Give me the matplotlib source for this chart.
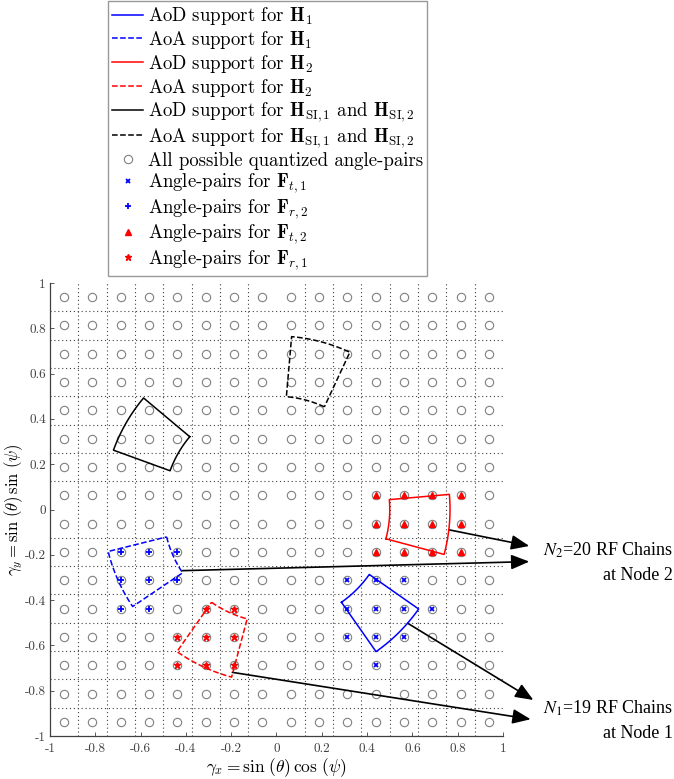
import numpy as np
import matplotlib
matplotlib.use('Agg')
import matplotlib.pyplot as plt

plt.rcParams['mathtext.fontset'] = 'cm'
plt.rcParams['font.family'] = ['cmr10', 'DejaVu Serif']
plt.rcParams['axes.unicode_minus'] = False

# quantized angle-pair grid (centres of the 16x16 cells)
grid_centers = [-0.9375, -0.8125, -0.6875, -0.5625, -0.4375, -0.3125, -0.1875, -0.0625,
                0.0625, 0.1875, 0.3125, 0.4375, 0.5625, 0.6875, 0.8125, 0.9375]
grid_lines = [-1, -0.875, -0.75, -0.625, -0.5, -0.375, -0.25, -0.125, 0,
              0.125, 0.25, 0.375, 0.5, 0.625, 0.75, 0.875, 1]
major_ticks = [-1, -0.8, -0.6, -0.4, -0.2, 0, 0.2, 0.4, 0.6, 0.8, 1]
tick_labels = ['-1', '-0.8', '-0.6', '-0.4', '-0.2', '0', '0.2', '0.4', '0.6', '0.8', '1']

# selected angle-pairs
ft1_x = [0.3125, 0.4375, 0.5625, 0.3125, 0.4375, 0.5625, 0.6875, 0.3125, 0.4375, 0.5625, 0.4375]
ft1_y = [-0.3125, -0.3125, -0.3125, -0.4375, -0.4375, -0.4375, -0.4375, -0.5625, -0.5625, -0.5625, -0.6875]
fr2_x = [-0.6875, -0.5625, -0.4375, -0.6875, -0.5625, -0.4375, -0.6875, -0.5625]
fr2_y = [-0.1875, -0.1875, -0.1875, -0.3125, -0.3125, -0.3125, -0.4375, -0.4375]
ft2_x = [0.4375, 0.5625, 0.6875, 0.8125, 0.4375, 0.5625, 0.6875, 0.8125, 0.4375, 0.5625, 0.6875, 0.8125]
ft2_y = [0.0625, 0.0625, 0.0625, 0.0625, -0.0625, -0.0625, -0.0625, -0.0625, -0.1875, -0.1875, -0.1875, -0.1875]
fr1_x = [-0.3125, -0.1875, -0.4375, -0.3125, -0.1875, -0.4375, -0.3125, -0.1875]
fr1_y = [-0.4375, -0.4375, -0.5625, -0.5625, -0.5625, -0.6875, -0.6875, -0.6875]

# angular supports (degrees): elevation theta range, azimuth psi ranges
theta_range = (30, 50)
psi_aod_h1 = (-55, -35)
psi_aoa_h1 = (194, 214)
psi_aod_h2 = (-15, 5)
psi_aoa_h2 = (-125, -105)
psi_aod_si = (140, 160)
psi_aoa_si = (65, 85)

# arrows: start (on support) -> tip (outside axes)
arrow_sx = [0.763, -0.416, 0.579, -0.195]
arrow_sy = [-0.090, -0.270, -0.502, -0.719]
arrow_ex = [1.116, 1.116, 1.134, 1.122]
arrow_ey = [-0.161, -0.230, -0.841, -0.926]


def support_outline(th, ps, n=40):
    t0, t1 = np.radians(th)
    p = np.radians(np.linspace(ps[0], ps[1], n))
    th_all = np.concatenate([np.full(n, t0), np.full(n, t1)[::-1], [t0]])
    ps_all = np.concatenate([p, p[::-1], [p[0]]])
    return np.sin(th_all) * np.cos(ps_all), np.sin(th_all) * np.sin(ps_all)


fig = plt.figure(figsize=(6.74, 7.79), dpi=100)
ax = fig.add_axes([50 / 674, 43 / 779, 453 / 674, 453 / 779])

supports = [
    (psi_aod_h1, 'b', '-', r'AoD support for $\mathbf{H}_1$'),
    (psi_aoa_h1, 'b', '--', r'AoA support for $\mathbf{H}_1$'),
    (psi_aod_h2, 'r', '-', r'AoD support for $\mathbf{H}_2$'),
    (psi_aoa_h2, 'r', '--', r'AoA support for $\mathbf{H}_2$'),
    (psi_aod_si, 'k', '-', r'AoD support for $\mathbf{H}_{\mathrm{SI},1}$ and $\mathbf{H}_{\mathrm{SI},2}$'),
    (psi_aoa_si, 'k', '--', r'AoA support for $\mathbf{H}_{\mathrm{SI},1}$ and $\mathbf{H}_{\mathrm{SI},2}$'),
]
handles = []
for ps, c, ls, lab in supports:
    xs, ys = support_outline(theta_range, ps)
    h, = ax.plot(xs, ys, color=c, ls=ls, lw=1.1, label=lab, zorder=4)
    handles.append(h)

gx, gy = np.meshgrid(grid_centers, grid_centers)
h, = ax.plot(gx.ravel(), gy.ravel(), 'o', mfc='none', mec='0.5', ms=6, mew=0.8, ls='none',
             label='All possible quantized angle-pairs', zorder=3)
handles.append(h)
h, = ax.plot(ft1_x, ft1_y, 'x', color='b', ms=3.5, mew=1.3, ls='none',
             label=r'Angle-pairs for $\mathbf{F}_{t,1}$', zorder=5)
handles.append(h)
h, = ax.plot(fr2_x, fr2_y, '+', color='b', ms=5, mew=1.3, ls='none',
             label=r'Angle-pairs for $\mathbf{F}_{r,2}$', zorder=5)
handles.append(h)
h, = ax.plot(ft2_x, ft2_y, '^', color='r', ms=5, ls='none',
             label=r'Angle-pairs for $\mathbf{F}_{t,2}$', zorder=5)
handles.append(h)
h, = ax.plot(fr1_x, fr1_y, '*', color='r', ms=5, ls='none',
             label=r'Angle-pairs for $\mathbf{F}_{r,1}$', zorder=5)
handles.append(h)

for sx, sy, ex, ey in zip(arrow_sx, arrow_sy, arrow_ex, arrow_ey):
    ax.annotate('', xy=(ex, ey), xytext=(sx, sy), annotation_clip=False,
                arrowprops=dict(arrowstyle='-|>,head_length=1.1,head_width=0.45', color='k',
                                lw=1.2, shrinkA=0, shrinkB=0, mutation_scale=10))

ax.set_xlim(-1, 1)
ax.set_ylim(-1, 1)
ax.set_xticks(major_ticks)
ax.set_yticks(major_ticks)
ax.set_xticklabels(tick_labels, fontsize=9.5)
ax.set_yticklabels(tick_labels, fontsize=9.5)
ax.set_xticks(grid_lines, minor=True)
ax.set_yticks(grid_lines, minor=True)
ax.grid(which='minor', ls=(0, (1, 2.5)), color='0.25', lw=0.8)
ax.tick_params(which='minor', length=0)
ax.tick_params(which='major', direction='in', length=3, width=0.6, colors='0.25')
ax.tick_params(axis='x', which='major', pad=5)
ax.tick_params(axis='y', which='major', pad=3)
for s in ['top', 'right']:
    ax.spines[s].set_visible(False)
for s in ['left', 'bottom']:
    ax.spines[s].set_color('0.25')
    ax.spines[s].set_linestyle((0, (1, 1)))
    ax.spines[s].set_linewidth(0.9)

ax.set_xlabel(r'$\gamma_x = \sin\,(\theta)\,\cos\,(\psi)$', fontsize=12.5)
ax.set_ylabel(r'$\gamma_y = \sin\,(\theta)\,\sin\,(\psi)$', fontsize=12)
ax.xaxis.set_label_coords(0.5, -0.045)
ax.yaxis.set_label_coords(-0.056, 0.5)

leg = fig.legend(handles=handles, loc='upper left', bbox_to_anchor=(108 / 674, 1 - 1 / 779),
                 fontsize=13.5, handlelength=1.65, handletextpad=0.25, labelspacing=0.1,
                 borderpad=0.22, borderaxespad=0, fancybox=False, framealpha=1, edgecolor='0.6')
leg.get_frame().set_linewidth(1.0)

txt_kw = dict(fontsize=13, family='Liberation Serif', math_fontfamily='stix', ha='right', va='baseline')
fig.text(673 / 674, 1 - 556 / 779, r'$N_2$=20 RF Chains', **txt_kw)
fig.text(673 / 674, 1 - 579.5 / 779, 'at Node 2', **txt_kw)
fig.text(673 / 674, 1 - 714 / 779, r'$N_1$=19 RF Chains', **txt_kw)
fig.text(673 / 674, 1 - 737.5 / 779, 'at Node 1', **txt_kw)

fig.savefig('out.png', dpi=100)
